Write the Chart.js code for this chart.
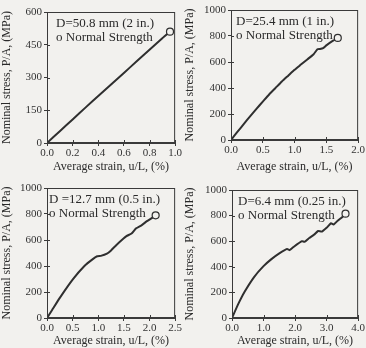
<!DOCTYPE html>
<html>
<head>
<meta charset="utf-8">
<script src="https://cdn.jsdelivr.net/npm/chart.js@4.4.0/dist/chart.umd.min.js"></script>
<style>
  html, body { margin: 0; padding: 0; background: #f2f1ee; }
  #grid { display: grid; grid-template-columns: 183px 183px; grid-template-rows: 174px 174px; width: 366px; height: 348px; }
  canvas { display: block; }
</style>
</head>
<body>
<div id="grid">
  <canvas id="c1" width="183" height="174"></canvas>
  <canvas id="c2" width="183" height="174"></canvas>
  <canvas id="c3" width="183" height="174"></canvas>
  <canvas id="c4" width="183" height="174"></canvas>
</div>
<script>
// data (strain in %, stress in MPa)
const strain50 = [0, 0.1, 0.2, 0.3, 0.4, 0.5, 0.6, 0.7, 0.8, 0.9, 0.96];
const stress50 = [0, 54, 108, 162, 215, 268, 321, 374, 427, 480, 510];

const strain25 = [0, 0.1, 0.2, 0.3, 0.4, 0.5, 0.6, 0.7, 0.8, 0.9, 1.0, 1.1, 1.2, 1.3, 1.36, 1.4, 1.45, 1.5, 1.6, 1.68];
const stress25 = [0, 62, 122, 182, 240, 295, 350, 400, 450, 495, 540, 580, 620, 660, 698, 700, 707, 728, 762, 785];

const strain12 = [0, 0.1, 0.25, 0.5, 0.73, 0.9, 0.98, 1.05, 1.17, 1.25, 1.35, 1.46, 1.55, 1.65, 1.74, 1.85, 1.95, 2.05, 2.12];
const stress12 = [0, 62, 155, 295, 400, 455, 475, 478, 495, 520, 560, 600, 630, 650, 690, 715, 745, 770, 790];

const strain06 = [0, 0.2, 0.4, 0.7, 1.0, 1.25, 1.5, 1.75, 1.82, 1.95, 2.22, 2.3, 2.45, 2.6, 2.73, 2.85, 3.0, 3.14, 3.22, 3.35, 3.5, 3.6];
const stress06 = [0, 110, 205, 320, 405, 460, 505, 540, 530, 555, 600, 595, 625, 650, 680, 675, 705, 740, 730, 760, 790, 815];

const panelLabels = ['D=50.8 mm (2 in.)', 'D=25.4 mm (1 in.)', 'D =12.7 mm (0.5 in.)', 'D=6.4 mm (0.25 in.)'];
const markerLabel = 'o Normal Strength';
const xTitle = 'Average strain, u/L, (%)';
const yTitle = 'Nominal stress, P/A, (MPa)';

const ink = '#3a3a3a';
const serif = '"Liberation Serif", "DejaVu Serif", serif';

const framePlugin = {
  id: 'frame',
  afterDraw(chart, args, opts) {
    const a = chart.chartArea;
    const ctx = chart.ctx;
    ctx.save();
    ctx.strokeStyle = ink;
    ctx.lineWidth = 1;
    ctx.strokeRect(a.left + 0.5, a.top + 0.5, a.right - a.left - 1, a.bottom - a.top - 1);
    // small inner ticks
    chart.scales.x.ticks.forEach(t => {
      const px = Math.round(chart.scales.x.getPixelForValue(t.value)) + 0.5;
      ctx.beginPath(); ctx.moveTo(px, a.bottom); ctx.lineTo(px, a.bottom - 3); ctx.stroke();
    });
    chart.scales.y.ticks.forEach(t => {
      const py = Math.round(chart.scales.y.getPixelForValue(t.value)) + 0.5;
      ctx.beginPath(); ctx.moveTo(a.left, py); ctx.lineTo(a.left + 3, py); ctx.stroke();
    });
    // label box text
    ctx.fillStyle = '#2a2a2a';
    ctx.font = '13px ' + serif;
    ctx.textBaseline = 'middle';
    ctx.fillText(opts.label, a.left + opts.dx, a.top + 12);
    ctx.fillText(markerLabel, a.left + opts.dx, a.top + 26);
    ctx.restore();
  }
};

function makePanel(id, xs, ys, xMax, xStep, yMax, yStep, label, box) {
  const pts = xs.map((x, i) => ({ x: x, y: ys[i] }));
  const last = pts.length - 1;
  return new Chart(document.getElementById(id), {
    type: 'line',
    data: {
      datasets: [{
        data: pts,
        borderColor: '#2f2f2f',
        borderWidth: 2,
        tension: 0.15,
        pointRadius: ctx => ctx.dataIndex === last ? 3.5 : 0,
        pointBorderWidth: 1.2,
        pointBorderColor: '#2f2f2f',
        pointBackgroundColor: '#f2f1ee'
      }]
    },
    options: {
      responsive: false,
      animation: false,
      layout: { padding: { left: 0, top: box.top, right: 183 - box.right, bottom: 0 } },
      plugins: {
        legend: { display: false },
        tooltip: { enabled: false },
        frame: { label: label, dx: box.dx }
      },
      scales: {
        x: {
          type: 'linear',
          min: 0, max: xMax,
          afterFit: s => { s.height = 174 - box.bottom; },
          grid: { drawOnChartArea: false, tickLength: 3, color: ink },
          border: { color: ink },
          ticks: {
            stepSize: xStep, color: '#333', padding: 1,
            font: { family: serif, size: 11 },
            maxRotation: 0,
            callback: v => v.toFixed(1)
          },
          title: { display: true, text: xTitle, color: '#2a2a2a', padding: { top: 1, bottom: 0 }, font: { family: serif, size: 12 } }
        },
        y: {
          min: 0, max: yMax,
          afterFit: s => { s.width = box.left; },
          grid: { drawOnChartArea: false, tickLength: 3, color: ink },
          border: { color: ink },
          ticks: {
            stepSize: yStep, color: '#333', padding: 2,
            font: { family: serif, size: 11 },
            callback: v => String(v)
          },
          title: { display: true, text: yTitle, color: '#2a2a2a', padding: { top: 0, bottom: 2 }, font: { family: serif, size: 12 } }
        }
      }
    },
    plugins: [framePlugin]
  });
}

makePanel('c1', strain50, stress50, 1.0, 0.2, 600, 150, panelLabels[0], { left: 47, right: 178, top: 12, bottom: 143, dx: 9 });
makePanel('c2', strain25, stress25, 2.0, 0.5, 1000, 200, panelLabels[1], { left: 48, right: 179, top: 10, bottom: 140, dx: 5 });
makePanel('c3', strain12, stress12, 2.5, 0.5, 1000, 200, panelLabels[2], { left: 47, right: 179, top: 14, bottom: 144, dx: 2 });
makePanel('c4', strain06, stress06, 4.0, 1.0, 1000, 200, panelLabels[3], { left: 49, right: 180, top: 16, bottom: 144, dx: 6 });
</script>
</body>
</html>
